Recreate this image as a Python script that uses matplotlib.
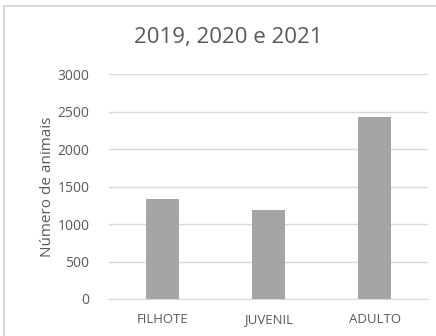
import matplotlib
matplotlib.use("Agg")
import matplotlib.pyplot as plt
from matplotlib.patches import Rectangle

categories = ["FILHOTE", "JUVENIL", "ADULTO"]
values = [1329, 1187, 2427]
yticks = [0, 500, 1000, 1500, 2000, 2500, 3000]

plt.rcParams["font.family"] = ["Open Sans", "DejaVu Sans"]
text_color = "#595959"
grid_color = "#d9d9d9"

fig = plt.figure(figsize=(4.36, 3.36), dpi=100)
# chart border (only top and left visible in the crop)
fig.patches.append(Rectangle((3.5 / 436, -0.05), 1.1, 1.05 - 5.5 / 336,
                             transform=fig.transFigure, fill=False,
                             edgecolor=grid_color, linewidth=1.5))

ax = fig.add_axes([109 / 436, 37 / 336, 319 / 436, 225 / 336])
x = range(len(categories))
ax.bar(x, values, width=0.31, color="#a5a5a5", zorder=3)

ax.set_xlim(-0.5, len(categories) - 0.5)
ax.set_ylim(0, 3000)
ax.set_yticks(yticks)
ax.set_yticklabels([str(v) for v in yticks])
ax.set_xticks(list(x))
ax.set_xticklabels(categories)
ax.grid(axis="y", color=grid_color, linewidth=1, zorder=0)
for side in ["top", "right", "left"]:
    ax.spines[side].set_visible(False)
ax.spines["bottom"].set_color(grid_color)
ax.tick_params(axis="y", length=0, labelsize=10, colors=text_color, pad=14)
ax.tick_params(axis="x", length=0, labelsize=9.5, colors=text_color, pad=10)

ax.set_ylabel("Número de animais", fontsize=11, color=text_color, labelpad=2)
fig.text(228 / 436, 1 - 37 / 336, "2019, 2020 e 2021", ha="center", va="center",
         fontsize=16, color=text_color)

fig.savefig("out.png", dpi=100)
